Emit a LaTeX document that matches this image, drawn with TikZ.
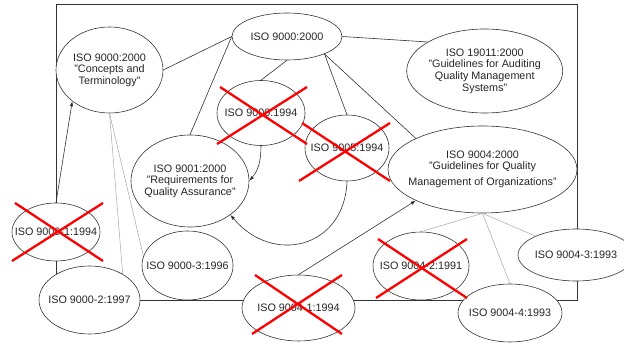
\documentclass[tikz,border=0pt]{standalone}
\usepackage{fontspec}
\setmainfont{Liberation Sans}
\usetikzlibrary{shapes.geometric,arrows.meta}
\begin{document}
\begin{tikzpicture}[x=1pt,y=-1pt,
  doc/.style={ellipse,draw=black!80,line width=0.6pt,fill=white,inner sep=-15pt,
    align=center,font=\fontsize{10.8}{11.6}\selectfont,text=black!85},
  link/.style={draw=black!80,line width=0.6pt},
  faint/.style={draw=black!35,line width=0.5pt},
  ref/.style={link,-{Latex[length=5pt,width=3.6pt]}},
  strike/.style={draw=red,line width=2.3pt}]
\useasboundingbox (0,0) rectangle (624,344);

% outer frame (behind the documents)
\draw[draw=black!80,line width=0.8pt] (56,4) rectangle (577,300);

% documents
\node[doc,minimum width=110pt,minimum height=47pt] (n9000) at (287,36.5) {ISO 9000:2000};
\node[doc,minimum width=107pt,minimum height=86pt] (nconc) at (109.5,70) {ISO 9000:2000\\"Concepts and\\Terminology"};
\node[doc,minimum width=88pt,minimum height=65pt] (n94) at (261,113) {ISO 9000:1994};
\node[doc,minimum width=84pt,minimum height=66pt] (n9005) at (347,148) {ISO 9005:1994};
\node[doc,minimum width=118pt,minimum height=92pt] (n9001) at (190,181) {ISO 9001:2000\\"Requirements for\\Quality Assurance"};
\node[doc,minimum width=156pt,minimum height=84pt] (n19011) at (484.7,71) {ISO 19011:2000\\"Guidelines for Auditing\\Quality Management\\Systems"};
\node[doc,minimum width=189pt,minimum height=87pt] (n9004) at (482.5,169.5) {ISO 9004:2000\\"Guidelines for Quality\\[4.5pt]Management of Organizations"};
\node[doc,minimum width=88pt,minimum height=58pt] (n90001) at (56,232) {ISO 9000-1:1994};
\node[doc,minimum width=101pt,minimum height=68pt] (n90002) at (89.5,300) {ISO 9000-2:1997};
\node[doc,minimum width=91pt,minimum height=69pt] (n90003) at (187.5,265.5) {ISO 9000-3:1996};
\node[doc,minimum width=113pt,minimum height=66pt] (n90041) at (298.5,308) {ISO 9004-1:1994};
\node[doc,minimum width=96pt,minimum height=68pt] (n90042) at (421,266) {ISO 9004-2:1991};
\node[doc,minimum width=116pt,minimum height=52pt] (n90043) at (576,255) {ISO 9004-3:1993};
\node[doc,minimum width=104pt,minimum height=58pt] (n90044) at (510,313) {ISO 9004-4:1993};

% plain relations
\draw[link] (n9000.west) -- (nconc.east);
\draw[link] (n9000.west) -- (n9001.north);
\draw[link] (n9000.south) -- (n94.north);
\draw[link] (n9000.-25) -- (n9005.north);
\draw[link] (n9000.-25) -- (n9004.155);
\draw[link] (n9000.east) -- (n19011.153);

% faint relations
\draw[faint] (nconc.south) -- (n90002.38);
\draw[faint] (nconc.south) -- (n90003.168);
\draw[faint] (n9004.south) -- (n90042.north);
\draw[faint] (n9004.south) -- (n90044.north);
\draw[faint] (n9004.south) -- (n90043.155);

% directed relations
\draw[ref] (n90001.north) -- (nconc.-140);
\draw[ref] (n90041.north) -- (n9004.-155);
\draw[ref] (n94.south) to[out=-90,in=50] (n9001.east);
\draw[ref] (n9005.south) to[out=-92,in=-50,looseness=1.4] (n9001.-40);

% withdrawn documents
\draw[strike] (220,87)--(307,144) (217,144)--(307,87);
\draw[strike] (302,123)--(390,181) (299,181)--(390,123);
\draw[strike] (15,203)--(103,261) (12,261)--(103,203);
\draw[strike] (255,275)--(342,334) (252,334)--(342,275);
\draw[strike] (378,239)--(467,298) (376,298)--(467,239);
\end{tikzpicture}
\end{document}
